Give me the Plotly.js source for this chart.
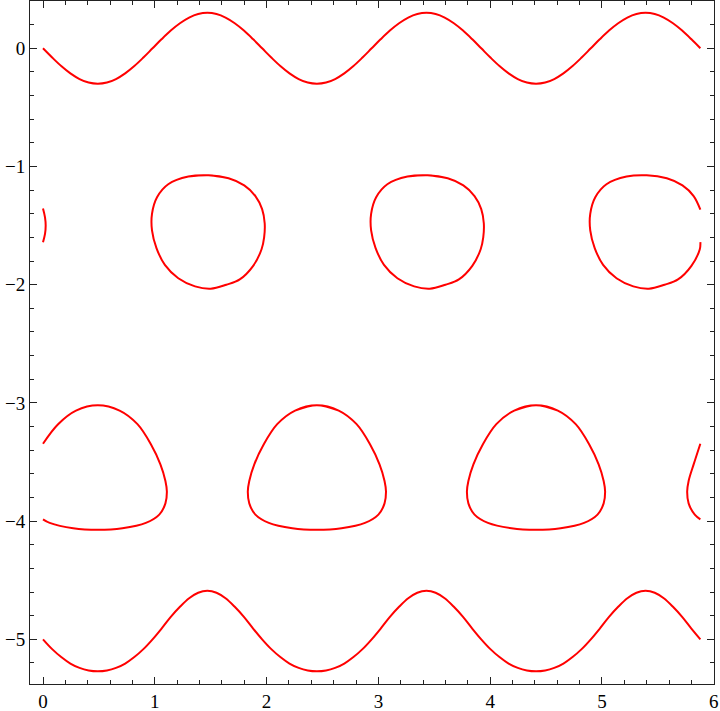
<!DOCTYPE html>
<html>
<head>
<meta charset="utf-8">
<script src="https://cdn.plot.ly/plotly-3.0.1.min.js"></script>
<style>html,body{margin:0;padding:0;background:#fff;}#chart{width:720px;height:711px;}</style>
</head>
<body>
<div id="chart"></div>
<script>
// Wave curves (contour lines near y = 0 and y = -5)
const waveX = [0, 0.082, 0.163, 0.245, 0.327, 0.408, 0.49, 0.572, 0.653, 0.735, 0.817, 0.898,
  0.98, 1.062, 1.143, 1.225, 1.307, 1.388, 1.47, 1.552, 1.633, 1.715, 1.797, 1.878,
  1.96, 2.042, 2.123, 2.205, 2.287, 2.368, 2.45, 2.532, 2.613, 2.695, 2.777, 2.858,
  2.94, 3.022, 3.103, 3.185, 3.267, 3.348, 3.43, 3.512, 3.593, 3.675, 3.757, 3.838,
  3.92, 4.002, 4.083, 4.165, 4.247, 4.328, 4.41, 4.492, 4.573, 4.655, 4.737, 4.818,
  4.9, 4.982, 5.063, 5.145, 5.227, 5.308, 5.39, 5.472, 5.553, 5.635, 5.717, 5.798, 5.88];
const topWaveY = [0, -0.078, -0.15, -0.212, -0.26, -0.29, -0.30, -0.29, -0.26, -0.212, -0.15, -0.078,
  0, 0.078, 0.15, 0.212, 0.26, 0.29, 0.30, 0.29, 0.26, 0.212, 0.15, 0.078,
  0, -0.078, -0.15, -0.212, -0.26, -0.29, -0.30, -0.29, -0.26, -0.212, -0.15, -0.078,
  0, 0.078, 0.15, 0.212, 0.26, 0.29, 0.30, 0.29, 0.26, 0.212, 0.15, 0.078,
  0, -0.078, -0.15, -0.212, -0.26, -0.29, -0.30, -0.29, -0.26, -0.212, -0.15, -0.078,
  0, 0.078, 0.15, 0.212, 0.26, 0.29, 0.30, 0.29, 0.26, 0.212, 0.15, 0.078, 0];
const bottomWaveY = [-5, -5.083, -5.15, -5.205, -5.242, -5.263, -5.27, -5.263, -5.242, -5.205, -5.15, -5.083,
  -5, -4.907, -4.81, -4.725, -4.653, -4.606, -4.59, -4.606, -4.653, -4.725, -4.81, -4.907,
  -5, -5.083, -5.15, -5.205, -5.242, -5.263, -5.27, -5.263, -5.242, -5.205, -5.15, -5.083,
  -5, -4.907, -4.81, -4.725, -4.653, -4.606, -4.59, -4.606, -4.653, -4.725, -4.81, -4.907,
  -5, -5.083, -5.15, -5.205, -5.242, -5.263, -5.27, -5.263, -5.242, -5.205, -5.15, -5.083,
  -5, -4.907, -4.81, -4.725, -4.653, -4.606, -4.59, -4.606, -4.653, -4.725, -4.81, -4.907, -5];

// Ovals near y = -1.5
const leftArcX = [0, 0.018, 0.024, 0.018, 0];
const leftArcY = [-1.355, -1.43, -1.50, -1.57, -1.64];
const oval1X = [1.30, 1.48, 1.66, 1.80, 1.90, 1.96, 1.983, 1.978, 1.955, 1.88, 1.76, 1.64, 1.50, 1.36, 1.21, 1.09, 1.015, 0.975, 0.975, 1.02, 1.12, 1.30, 1.48, 1.66];
const oval1Y = [-1.085, -1.074, -1.10, -1.16, -1.25, -1.36, -1.48, -1.60, -1.70, -1.84, -1.955, -2.00, -2.034, -2.014, -1.945, -1.832, -1.69, -1.54, -1.40, -1.26, -1.15, -1.085, -1.074, -1.10];
const oval2X = [3.26, 3.44, 3.62, 3.76, 3.86, 3.92, 3.943, 3.938, 3.915, 3.84, 3.72, 3.60, 3.46, 3.32, 3.17, 3.05, 2.975, 2.935, 2.935, 2.98, 3.08, 3.26, 3.44, 3.62];
const oval2Y = [-1.085, -1.074, -1.10, -1.16, -1.25, -1.36, -1.48, -1.60, -1.70, -1.84, -1.955, -2.00, -2.034, -2.014, -1.945, -1.832, -1.69, -1.54, -1.40, -1.26, -1.15, -1.085, -1.074, -1.10];
const oval3X = [5.88, 5.82, 5.72, 5.58, 5.40, 5.22, 5.04, 4.94, 4.895, 4.895, 4.935, 5.01, 5.13, 5.28, 5.42, 5.56, 5.68, 5.80, 5.875, 5.88];
const oval3Y = [-1.365, -1.25, -1.16, -1.10, -1.074, -1.085, -1.15, -1.26, -1.40, -1.54, -1.69, -1.832, -1.945, -2.014, -2.034, -2.00, -1.955, -1.84, -1.70, -1.64];

// Drop shapes near y = -3.5
const drop1X = [0, 0.135, 0.295, 0.49, 0.685, 0.845, 0.965, 1.05, 1.095, 1.108, 1.095, 1.04, 0.92, 0.71, 0.49, 0.27, 0.06, 0];
const drop1Y = [-3.345, -3.18, -3.065, -3.02, -3.065, -3.18, -3.35, -3.52, -3.66, -3.75, -3.85, -3.945, -4.015, -4.06, -4.073, -4.06, -4.015, -3.985];
const drop2X = [2.255, 2.45, 2.645, 2.805, 2.925, 3.01, 3.055, 3.068, 3.055, 3.0, 2.88, 2.67, 2.45, 2.23, 2.02, 1.90, 1.845, 1.832, 1.845, 1.89, 1.975, 2.095, 2.255, 2.45, 2.645];
const drop2Y = [-3.065, -3.02, -3.065, -3.18, -3.35, -3.52, -3.66, -3.75, -3.85, -3.945, -4.015, -4.06, -4.073, -4.06, -4.015, -3.945, -3.85, -3.75, -3.66, -3.52, -3.35, -3.18, -3.065, -3.02, -3.065];
const drop3X = [4.215, 4.41, 4.605, 4.765, 4.885, 4.97, 5.015, 5.028, 5.015, 4.96, 4.84, 4.63, 4.41, 4.19, 3.98, 3.86, 3.805, 3.792, 3.805, 3.85, 3.935, 4.055, 4.215, 4.41, 4.605];
const drop3Y = [-3.065, -3.02, -3.065, -3.18, -3.35, -3.52, -3.66, -3.75, -3.85, -3.945, -4.015, -4.06, -4.073, -4.06, -4.015, -3.945, -3.85, -3.75, -3.66, -3.52, -3.35, -3.18, -3.065, -3.02, -3.065];
const rightArcX = [5.88, 5.82, 5.775, 5.762, 5.775, 5.83, 5.88];
const rightArcY = [-3.345, -3.52, -3.66, -3.75, -3.85, -3.945, -3.985];

const xTicks = [0, 1, 2, 3, 4, 5, 6];
const yTicks = [-5, -4, -3, -2, -1, 0];

const curves = [
  [waveX, topWaveY], [waveX, bottomWaveY],
  [leftArcX, leftArcY], [oval1X, oval1Y], [oval2X, oval2Y], [oval3X, oval3Y],
  [drop1X, drop1Y], [drop2X, drop2Y], [drop3X, drop3Y], [rightArcX, rightArcY]
];
const traces = curves.map(c => ({
  x: c[0], y: c[1], type: 'scatter', mode: 'lines',
  line: {color: '#ff0000', width: 2, shape: 'spline', smoothing: 1},
  hoverinfo: 'skip', showlegend: false
}));

const axisCommon = {
  showgrid: false, zeroline: false, showline: true, linecolor: '#222', linewidth: 1,
  mirror: 'allticks', ticks: 'inside', ticklen: 7, tickwidth: 1, tickcolor: '#222',
  tickfont: {family: 'Liberation Serif, Times New Roman, serif', size: 19, color: '#000'},
  minor: {ticks: 'inside', ticklen: 4, tickwidth: 1, tickcolor: '#222', dtick: 0.2, showgrid: false}
};

const layout = {
  width: 720, height: 711,
  margin: {l: 30.3, r: 6, t: 1, b: 27},
  paper_bgcolor: '#fff', plot_bgcolor: '#fff',
  xaxis: Object.assign({}, axisCommon, {range: [-0.1163, 6.002], tickvals: xTicks, ticktext: xTicks.map(String)}),
  yaxis: Object.assign({}, axisCommon, {range: [-5.378, 0.4002], tickvals: yTicks}),
  showlegend: false
};

Plotly.newPlot('chart', traces, layout, {displayModeBar: false, staticPlot: true});
</script>
</body>
</html>
